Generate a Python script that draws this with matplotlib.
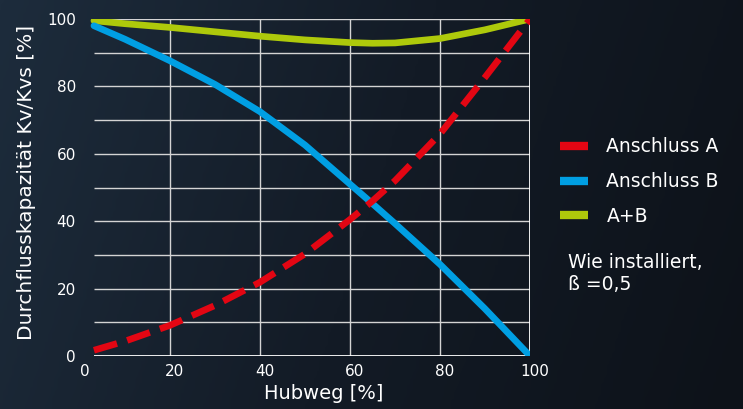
import numpy as np
import matplotlib.pyplot as plt
from matplotlib.colors import LinearSegmentedColormap
from matplotlib.lines import Line2D
from matplotlib.transforms import ScaledTranslation

# Hubweg [%] (curves start slightly right of the 0 mark in the original)
hub = [3.1, 10, 20, 30, 40, 50, 60, 65, 70, 80, 90, 100]
# Anschluss A (dashed red)
kv_a = [1.7, 4.4, 9.1, 15.0, 21.9, 30.3, 40.5, 46.0, 52.0, 65.9, 82.7, 100]
# Anschluss B (blue)
kv_b = [98, 94.0, 87.6, 80.6, 72.5, 62.6, 51.0, 45.2, 39.3, 27.2, 14.0, 0]
# A+B (green)
kv_ab = [99.5, 98.6, 97.5, 96.2, 94.9, 93.8, 93.0, 92.8, 92.9, 94.2, 96.8, 100]

legend_labels = ['Anschluss A', 'Anschluss B', 'A+B']
note = 'Wie installiert,\nß =0,5'
grid_start = 3.1

red = '#e30613'
blue = '#009fe3'
green = '#aec90b'

fig = plt.figure(figsize=(7.43, 4.09), dpi=100)

# dark gradient background over the whole figure
bg = fig.add_axes([0, 0, 1, 1], zorder=-10)
cmap = LinearSegmentedColormap.from_list('bg', ['#1d2c3c', '#131b26', '#0d1219'])
gx = np.linspace(0, 1, 256)
gy = np.linspace(0, 1, 64)
G = gx[None, :] * 0.85 + (1 - gy[:, None]) * 0.15
bg.imshow(G, cmap=cmap, aspect='auto', extent=[0, 1, 0, 1], origin='lower')
bg.axis('off')

ax = fig.add_axes([80 / 743, 53 / 409, 450 / 743, 337 / 409])
ax.patch.set_alpha(0)
ax.set_xlim(0, 100)
ax.set_ylim(0, 100)

# grid drawn by hand so that the horizontal lines start where the curves start
ax.hlines(np.arange(10, 101, 10), grid_start, 100, color='#d4d4d4', lw=1, zorder=1)
ax.vlines([20, 40, 60, 80], 0, 100, color='#d4d4d4', lw=1, zorder=1)
ax.hlines(0, grid_start, 100, color='white', lw=1.3, zorder=2)
ax.vlines(100, 0, 100, color='white', lw=1.3, zorder=2)

ax.plot(hub, kv_ab, color=green, lw=4.8, solid_capstyle='round', zorder=3)
ax.plot(hub, kv_b, color=blue, lw=4.8, solid_capstyle='round', zorder=4)
ax.plot(hub, kv_a, color=red, lw=4.8, dashes=(3.6, 1.6), zorder=5)

for s in ax.spines.values():
    s.set_visible(False)
ax.set_xticks([0, 20, 40, 60, 80, 100])
ax.set_yticks([0, 20, 40, 60, 80, 100])
ax.tick_params(length=0, colors='white', labelsize=11)
ax.tick_params(axis='x', pad=6)
ax.tick_params(axis='y', pad=3)
shift = ScaledTranslation(5 / 100, 0, fig.dpi_scale_trans)
for lab in ax.get_xticklabels():
    lab.set_transform(lab.get_transform() + shift)

ax.set_xlabel('Hubweg [%]', color='white', fontsize=14)
ax.xaxis.set_label_coords(0.542, -0.083)
ax.set_ylabel('Durchflusskapazität Kv/Kvs [%]', color='white', fontsize=14.5)
ax.yaxis.set_label_coords(-0.098, 0.515)

handles = [Line2D([], [], color=c, lw=6, solid_capstyle='butt') for c in (red, blue, green)]
leg = fig.legend(handles, legend_labels, loc='upper left', bbox_to_anchor=(552 / 743, 1 - 130 / 409),
                 frameon=False, fontsize=13.5, handlelength=1.5, handletextpad=1.0,
                 labelspacing=0.83, borderaxespad=0)
for t in leg.get_texts():
    t.set_color('white')

fig.text(568 / 743, 1 - 253 / 409, note, color='white', fontsize=13.5, va='top', linespacing=1.2)

fig.savefig('out.png', dpi=100)
